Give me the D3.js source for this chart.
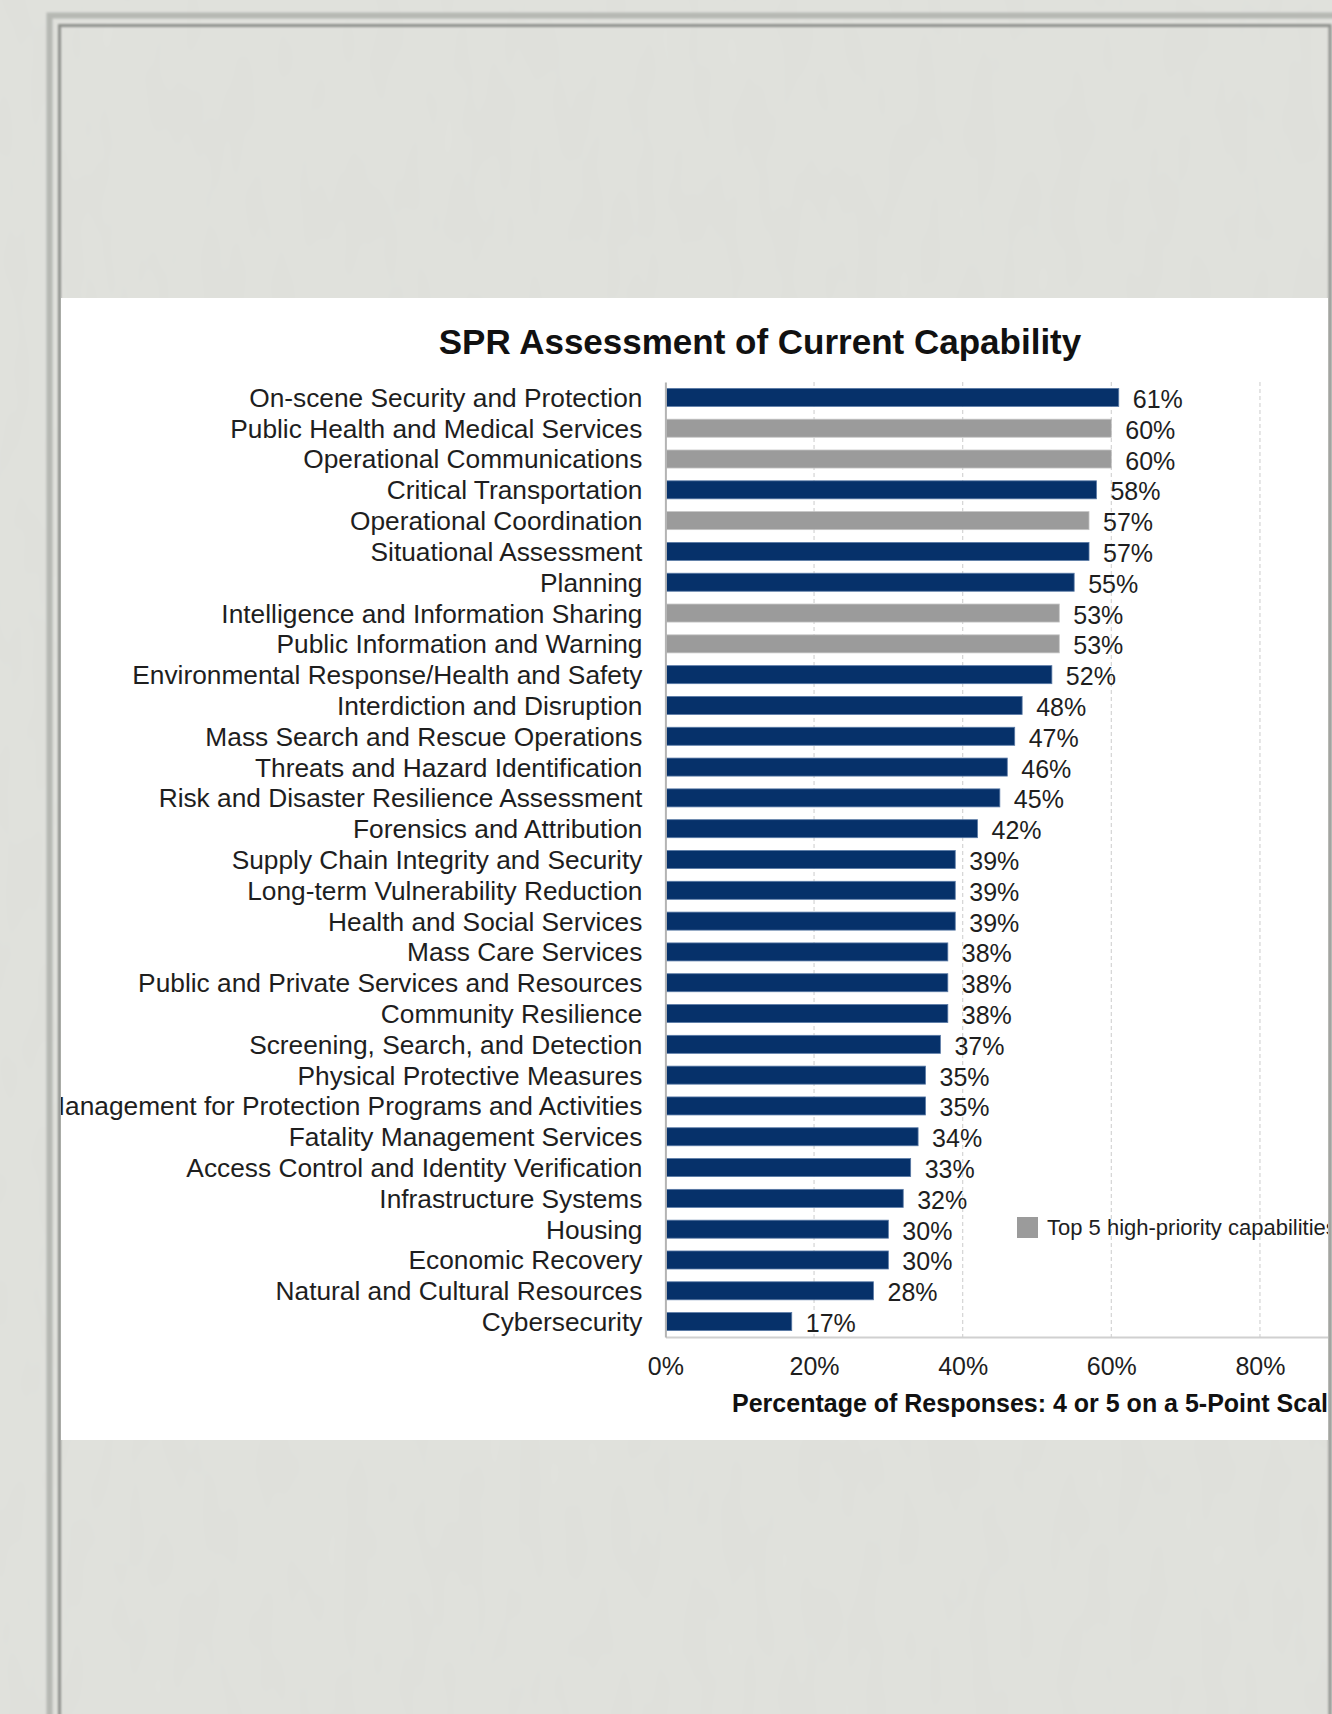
<!DOCTYPE html>
<html>
<head>
<meta charset="utf-8">
<script src="https://cdn.jsdelivr.net/npm/d3@7"></script>
<style>
  html, body { margin: 0; padding: 0; background: #e1e2dd; }
  svg { display: block; }
  text { font-family: "Liberation Sans", Arial, Helvetica, sans-serif; }
</style>
</head>
<body>
<svg id="chart" width="1332" height="1714"></svg>
<script>
// Core capabilities, ordered from highest to lowest self-assessed capability
const categories = [
  "On-scene Security and Protection",
  "Public Health and Medical Services",
  "Operational Communications",
  "Critical Transportation",
  "Operational Coordination",
  "Situational Assessment",
  "Planning",
  "Intelligence and Information Sharing",
  "Public Information and Warning",
  "Environmental Response/Health and Safety",
  "Interdiction and Disruption",
  "Mass Search and Rescue Operations",
  "Threats and Hazard Identification",
  "Risk and Disaster Resilience Assessment",
  "Forensics and Attribution",
  "Supply Chain Integrity and Security",
  "Long-term Vulnerability Reduction",
  "Health and Social Services",
  "Mass Care Services",
  "Public and Private Services and Resources",
  "Community Resilience",
  "Screening, Search, and Detection",
  "Physical Protective Measures",
  "Risk Management for Protection Programs and Activities",
  "Fatality Management Services",
  "Access Control and Identity Verification",
  "Infrastructure Systems",
  "Housing",
  "Economic Recovery",
  "Natural and Cultural Resources",
  "Cybersecurity"
];

// Percentage of responses rating 4 or 5 on a 5-point scale
const values = [61, 60, 60, 58, 57, 57, 55, 53, 53, 52, 48, 47, 46, 45, 42,
                39, 39, 39, 38, 38, 38, 37, 35, 35, 34, 33, 32, 30, 30, 28, 17];

// The five capabilities flagged as high priority
const highPriority = [
  "Public Health and Medical Services",
  "Operational Communications",
  "Operational Coordination",
  "Intelligence and Information Sharing",
  "Public Information and Warning"
];

const xDomain = [0, 100];
const xTicks = [0, 20, 40, 60, 80];
const chartTitle = "SPR Assessment of Current Capability";
const xAxisTitle = "Percentage of Responses: 4 or 5 on a 5-Point Scale";
const legendLabel = "Top 5 high-priority capabilities";

const NAVY = "#06316a";
const GREY = "#9b9b9b";

const svg = d3.select("#chart");
const defs = svg.append("defs");

defs.append("filter").attr("id", "soft")
  .attr("x", "-5%").attr("y", "-5%").attr("width", "110%").attr("height", "110%")
  .append("feGaussianBlur").attr("stdDeviation", 1.2);

// Faint linen texture for the page background
const tex = defs.append("filter").attr("id", "linen")
  .attr("x", 0).attr("y", 0).attr("width", "100%").attr("height", "100%");
tex.append("feTurbulence").attr("type", "fractalNoise")
  .attr("baseFrequency", "0.035 0.012").attr("numOctaves", 2).attr("seed", 7);
tex.append("feColorMatrix").attr("type", "matrix")
  .attr("values", "0 0 0 0 0.55  0 0 0 0 0.56  0 0 0 0 0.53  0 0 0 0.09 0");
svg.append("rect").attr("width", 1332).attr("height", 1714)
  .attr("fill", "#e1e2dd");
svg.append("rect").attr("width", 1332).attr("height", 1714)
  .attr("filter", "url(#linen)");

// Page frame: soft outer rule and a darker inner rule
svg.append("rect")
  .attr("x", 49.5).attr("y", 15.5).attr("width", 1400).attr("height", 1800)
  .attr("fill", "none").attr("stroke", "#b6b8b3").attr("stroke-width", 6)
  .attr("filter", "url(#soft)");
svg.append("rect")
  .attr("x", 59.5).attr("y", 25.5).attr("width", 1270.5).attr("height", 1800)
  .attr("fill", "none").attr("stroke", "#8f918d").attr("stroke-width", 3)
  .attr("filter", "url(#soft)");

// White chart panel
const panel = { x: 61, y: 298, w: 1267, h: 1142 };
defs.append("clipPath").attr("id", "panelClip")
  .append("rect").attr("x", panel.x).attr("y", panel.y)
  .attr("width", panel.w).attr("height", panel.h);

svg.append("rect")
  .attr("x", panel.x).attr("y", panel.y)
  .attr("width", panel.w).attr("height", panel.h)
  .attr("fill", "#ffffff");

const g = svg.append("g").attr("clip-path", "url(#panelClip)");

// Scales
const plotTop = 382, plotBottom = 1337;
const x = d3.scaleLinear().domain(xDomain).range([665.4, 1408.6]);
const y = d3.scaleBand().domain(categories)
  .range([plotTop, plotBottom])
  .paddingInner(0.415).paddingOuter(0.2075);

// Dashed vertical gridlines
g.append("g").selectAll("line")
  .data(xTicks.filter(t => t > 0).concat([xDomain[1]]))
  .join("line")
  .attr("x1", d => x(d)).attr("x2", d => x(d))
  .attr("y1", plotTop).attr("y2", plotBottom)
  .attr("stroke", "#d4d4d4").attr("stroke-width", 1.2)
  .attr("stroke-dasharray", "4,3");

// Bottom axis
const xAxis = g.append("g")
  .attr("transform", `translate(0,${plotBottom})`)
  .call(d3.axisBottom(x).tickValues(xTicks).tickFormat(d => d + "%")
    .tickSize(0).tickPadding(20));
xAxis.select(".domain").attr("stroke", "#d0d0d0").attr("stroke-width", 2);
xAxis.selectAll("text")
  .attr("font-size", 25).attr("fill", "#1e1e1e")
  .style("font-family", "'Liberation Sans', Arial, sans-serif");

// Bars
g.append("g").selectAll("rect")
  .data(categories.map((c, i) => ({ c, v: values[i] })))
  .join("rect")
  .attr("x", x(0) + 1)
  .attr("y", d => y(d.c))
  .attr("width", d => x(d.v) - x(0) - 1)
  .attr("height", y.bandwidth())
  .attr("fill", d => highPriority.includes(d.c) ? GREY : NAVY)
  .attr("stroke", d => highPriority.includes(d.c) ? "#c4c4c4" : "#5a7aa6")
  .attr("stroke-width", 0.8);

// Value labels
g.append("g").selectAll("text")
  .data(categories.map((c, i) => ({ c, v: values[i] })))
  .join("text")
  .attr("x", d => x(d.v) + 14)
  .attr("y", d => y(d.c) + y.bandwidth() / 2)
  .attr("dy", "0.42em")
  .attr("font-size", 25).attr("fill", "#1e1e1e")
  .text(d => d.v + "%");

// Left axis with category names
const yAxis = g.append("g")
  .attr("transform", `translate(${x(0)},0)`)
  .call(d3.axisLeft(y).tickSize(0).tickSizeOuter(0).tickPadding(23));
yAxis.select(".domain").attr("stroke", "#b4b4b4").attr("stroke-width", 2);
yAxis.selectAll("text")
  .attr("font-size", 26.3).attr("fill", "#1e1e1e")
  .attr("dy", "0.36em")
  .style("font-family", "'Liberation Sans', Arial, sans-serif");

// Title
g.append("text")
  .attr("x", 760).attr("y", 354)
  .attr("text-anchor", "middle")
  .attr("font-size", 35).attr("font-weight", "bold").attr("fill", "#111")
  .text(chartTitle);

// X-axis title
g.append("text")
  .attr("x", (x(0) + x(100)) / 2).attr("y", 1412)
  .attr("text-anchor", "middle")
  .attr("font-size", 25).attr("font-weight", "bold").attr("fill", "#111")
  .text(xAxisTitle);

// Legend
const legend = g.append("g").attr("transform", "translate(1017,1217)");
legend.append("rect")
  .attr("width", 21).attr("height", 21).attr("fill", GREY);
legend.append("text")
  .attr("x", 30).attr("y", 18)
  .attr("font-size", 22).attr("fill", "#1e1e1e")
  .text(legendLabel);
</script>
</body>
</html>
